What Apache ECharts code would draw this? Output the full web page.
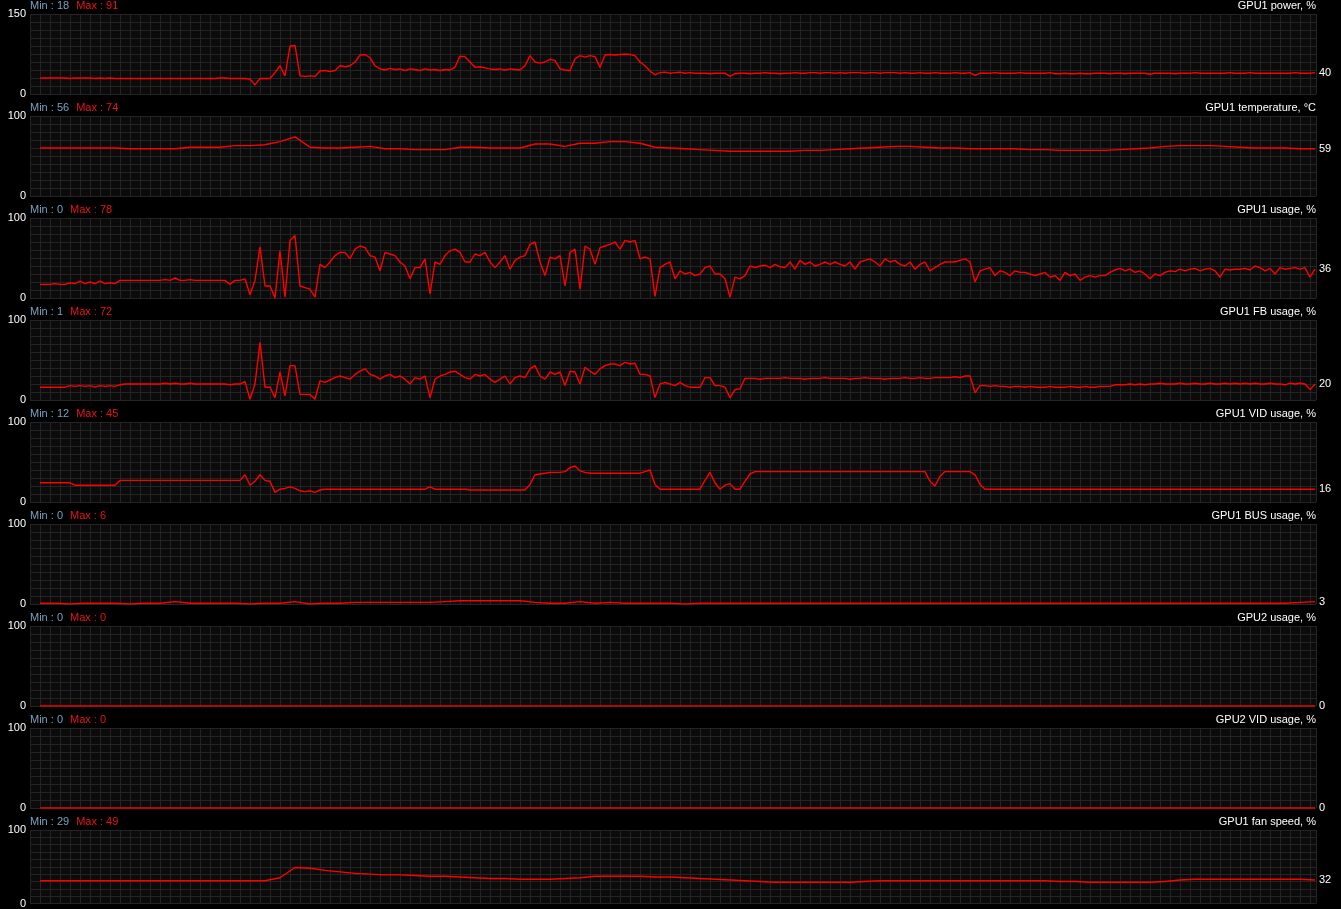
<!DOCTYPE html>
<html>
<head>
<meta charset="utf-8">
<title>GPU monitoring</title>
<script src="https://cdn.jsdelivr.net/npm/echarts@6.0.0/dist/echarts.min.js"></script>
<style>
  html, body { margin: 0; padding: 0; background: #000; }
  #chart { width: 1341px; height: 909px; }
</style>
</head>
<body>
<div id="chart"></div>
<script>
const panelNames = ['GPU1 power, %', 'GPU1 temperature, °C', 'GPU1 usage, %', 'GPU1 FB usage, %',
  'GPU1 VID usage, %', 'GPU1 BUS usage, %', 'GPU2 usage, %', 'GPU2 VID usage, %', 'GPU1 fan speed, %']
const panelMax = [150, 100, 100, 100, 100, 100, 100, 100, 100]
const minValues = [18, 56, 0, 1, 12, 0, 0, 0, 29]
const maxValues = [91, 74, 78, 72, 45, 6, 0, 0, 49]

// samples are evenly spaced in time, oldest on the left
const power = [
  30, 30, 30, 30, 30, 30, 29, 30, 30, 30, 30, 29, 30, 29, 30, 29, 29, 29, 29, 29,
  29, 29, 29, 29, 29, 29, 29, 29, 29, 29, 29, 29, 29, 29, 29, 29, 30, 30, 29, 29,
  29, 29, 28, 17, 29, 29, 29, 40, 53, 34, 90, 91, 34, 33, 34, 33, 43, 44, 42, 44,
  53, 51, 53, 60, 73, 74, 68, 53, 47, 45, 48, 46, 47, 44, 47, 46, 44, 47, 45, 46,
  44, 46, 45, 50, 71, 70, 60, 50, 51, 49, 47, 46, 47, 45, 47, 46, 45, 53, 72, 60,
  58, 60, 65, 63, 47, 45, 44, 66, 72, 69, 72, 70, 50, 73, 74, 73, 74, 75, 74, 72,
  60, 53, 43, 36, 40, 41, 39, 40, 41, 39, 40, 39, 39, 39, 38, 39, 39, 39, 33, 38,
  39, 39, 38, 39, 39, 40, 39, 39, 38, 39, 39, 40, 39, 39, 40, 40, 39, 40, 40, 39,
  40, 39, 40, 40, 40, 39, 40, 40, 39, 40, 40, 40, 39, 40, 39, 39, 40, 39, 39, 40,
  39, 39, 39, 40, 39, 39, 40, 35, 39, 39, 39, 40, 39, 39, 39, 39, 40, 39, 39, 39,
  39, 39, 40, 38, 38, 39, 38, 38, 39, 38, 38, 39, 39, 39, 38, 39, 39, 38, 39, 39,
  39, 39, 37, 39, 39, 39, 39, 38, 39, 39, 39, 40, 39, 39, 39, 39, 39, 39, 40, 39,
  39, 39, 40, 39, 39, 39, 39, 39, 39, 39, 39, 40, 39, 39, 39, 40
]
const temperature = [
  60, 60, 60, 60, 60, 60, 59, 59, 59, 59,
  61, 61, 61, 63, 63, 64, 68, 74, 61, 60,
  60, 61, 62, 59, 59, 58, 58, 58, 61, 61,
  60, 60, 60, 65, 65, 62, 66, 66, 68, 68,
  66, 61, 60, 59, 58, 57, 56, 56, 56, 56,
  56, 57, 57, 58, 59, 60, 61, 62, 62, 61,
  60, 60, 59, 59, 59, 59, 58, 58, 57, 57,
  57, 57, 58, 59, 60, 62, 63, 63, 63, 62,
  61, 60, 60, 60, 59, 59
]
const usage = [
  17, 17, 17, 18, 17, 17, 19, 18, 21, 18, 20, 18, 21, 18, 19, 18, 22, 22, 22, 22,
  22, 22, 22, 22, 22, 23, 22, 25, 22, 22, 23, 22, 22, 22, 22, 22, 22, 22, 17, 22,
  22, 24, 4, 22, 64, 15, 15, 0, 59, 1, 72, 78, 15, 13, 11, 1, 42, 38, 45, 53,
  57, 57, 49, 61, 65, 63, 53, 51, 34, 57, 55, 53, 45, 40, 24, 38, 38, 49, 5, 45,
  42, 53, 59, 61, 57, 45, 45, 55, 53, 57, 45, 38, 45, 53, 36, 47, 51, 53, 67, 70,
  45, 28, 51, 49, 53, 15, 57, 61, 11, 65, 61, 42, 63, 65, 67, 70, 61, 72, 70, 72,
  49, 51, 49, 2, 38, 42, 45, 24, 34, 30, 32, 28, 30, 38, 40, 30, 30, 24, 1, 26,
  24, 28, 40, 38, 40, 41, 38, 42, 39, 38, 45, 36, 47, 42, 45, 40, 42, 45, 42, 45,
  42, 40, 45, 36, 45, 47, 49, 45, 40, 49, 45, 47, 42, 40, 45, 36, 42, 45, 34, 38,
  42, 45, 45, 45, 47, 49, 45, 20, 34, 36, 38, 28, 34, 32, 28, 34, 32, 32, 30, 28,
  30, 32, 26, 28, 22, 32, 28, 30, 22, 26, 28, 26, 28, 28, 32, 35, 37, 34, 36, 32,
  34, 30, 24, 30, 28, 32, 34, 33, 36, 34, 36, 37, 34, 36, 37, 34, 26, 36, 35, 36,
  36, 37, 35, 40, 38, 34, 37, 30, 38, 36, 37, 38, 36, 38, 26, 36
]
const fbUsage = [
  16, 16, 16, 16, 16, 16, 18, 17, 18, 17, 18, 16, 18, 17, 18, 17, 19, 20, 20, 20,
  20, 20, 20, 20, 20, 21, 20, 21, 20, 20, 21, 20, 20, 20, 20, 20, 20, 20, 19, 20,
  20, 23, 1, 20, 72, 16, 16, 3, 35, 5, 43, 43, 7, 7, 7, 1, 24, 22, 25, 28,
  30, 28, 26, 32, 36, 39, 32, 30, 26, 30, 32, 28, 30, 26, 20, 28, 26, 30, 3, 26,
  30, 32, 35, 36, 32, 28, 26, 32, 30, 32, 26, 22, 26, 30, 20, 28, 30, 28, 39, 43,
  30, 26, 35, 32, 35, 18, 36, 35, 20, 41, 36, 32, 39, 43, 45, 45, 43, 47, 45, 46,
  32, 32, 30, 3, 20, 22, 20, 18, 22, 18, 16, 16, 16, 28, 28, 18, 18, 16, 3, 13,
  14, 27, 27, 27, 26, 27, 27, 27, 27, 28, 27, 27, 27, 26, 27, 27, 27, 28, 27, 27,
  27, 27, 26, 27, 27, 28, 27, 27, 27, 26, 27, 27, 27, 28, 27, 27, 28, 27, 27, 28,
  28, 28, 28, 29, 28, 30, 30, 9, 18, 18, 17, 18, 17, 17, 16, 17, 17, 16, 17, 16,
  16, 16, 17, 16, 16, 16, 17, 16, 16, 17, 16, 16, 17, 17, 17, 19, 19, 19, 20, 19,
  20, 19, 20, 20, 21, 20, 20, 20, 21, 20, 20, 21, 20, 20, 21, 20, 20, 21, 20, 21,
  20, 21, 20, 21, 20, 20, 21, 20, 20, 19, 21, 20, 21, 20, 13, 20
]
const vidUsage = [
  24, 24, 24, 24, 24, 24, 24, 21, 21, 21, 21, 21, 21, 21, 21, 21, 27, 27, 27, 27,
  27, 27, 27, 27, 27, 27, 27, 27, 27, 27, 27, 27, 27, 27, 27, 27, 27, 27, 27, 27,
  27, 34, 21, 26, 34, 27, 26, 12, 16, 17, 19, 17, 14, 13, 14, 12, 15, 16, 16, 16,
  16, 16, 16, 16, 16, 16, 16, 16, 16, 16, 16, 16, 16, 16, 16, 16, 16, 16, 19, 16,
  16, 16, 16, 16, 16, 16, 15, 15, 15, 15, 15, 15, 15, 15, 15, 15, 15, 15, 22, 34,
  35, 36, 37, 37, 37, 38, 43, 45, 39, 37, 36, 36, 36, 36, 36, 36, 36, 36, 36, 36,
  36, 38, 40, 22, 16, 16, 16, 16, 16, 16, 16, 16, 16, 27, 37, 24, 16, 21, 23, 16,
  16, 26, 35, 38, 38, 38, 38, 38, 38, 38, 38, 38, 38, 38, 38, 38, 38, 38, 38, 38,
  38, 38, 38, 38, 38, 38, 38, 38, 38, 38, 38, 38, 38, 38, 38, 38, 38, 38, 26, 20,
  32, 38, 38, 38, 38, 38, 38, 34, 22, 16, 16, 16, 16, 16, 16, 16, 16, 16, 16, 16,
  16, 16, 16, 16, 16, 16, 16, 16, 16, 16, 16, 16, 16, 16, 16, 16, 16, 16, 16, 16,
  16, 16, 16, 16, 16, 16, 16, 16, 16, 16, 16, 16, 16, 16, 16, 16, 16, 16, 16, 16,
  16, 16, 16, 16, 16, 16, 16, 16, 16, 16, 16, 16, 16, 16, 16, 16
]
const busUsage = [
  1, 1, 0, 1, 1, 1, 0, 1, 1, 3,
  1, 1, 1, 1, 0, 1, 1, 3, 0, 1,
  1, 2, 2, 2, 2, 2, 2, 3, 4, 4,
  4, 4, 4, 2, 1, 1, 3, 1, 2, 1,
  1, 1, 1, 0, 1, 1, 1, 1, 1, 1,
  1, 1, 1, 1, 1, 1, 1, 1, 1, 1,
  1, 1, 1, 1, 1, 1, 1, 1, 1, 1,
  1, 1, 1, 1, 1, 1, 1, 1, 1, 1,
  1, 1, 1, 1, 2, 3
]
const gpu2Usage = [0, 0]
const gpu2VidUsage = [0, 0]
const fanSpeed = [
  31, 31, 31, 31, 31, 31, 31, 31, 31, 31, 31, 31, 31, 31, 31, 31,
  35, 49, 48, 45, 43, 41, 40, 39, 39, 38,
  37, 37, 36, 35, 34, 34, 33, 33, 33, 34,
  35, 37, 37, 37, 37, 36, 36, 35, 34, 33,
  32, 31, 30, 29, 29, 29, 29, 29, 29, 30,
  31, 31, 31, 31, 31, 31, 31, 31, 31, 31,
  31, 31, 30, 30, 29, 29, 29, 29, 29, 30,
  32, 33, 33, 33, 33, 33, 33, 33, 33, 32
]
const panelValues = [power, temperature, usage, fbUsage, vidUsage, busUsage, gpu2Usage, gpu2VidUsage, fanSpeed]

const FONT = 'Liberation Sans, Arial, sans-serif'
const PLOT_LEFT = 30
const PLOT_W = 1286
const PLOT_H = 80
const PANEL_STEP = 102

// history starts 10px into the plot and runs to its right end
function toPoints(values) {
  const n = values.length
  return values.map((v, i) => [10 + i * 1275 / (n - 1), v])
}

const grid = [], xAxis = [], yAxis = [], series = [], title = []
panelValues.forEach((vals, k) => {
  const top = 14 + PANEL_STEP * k
  const max = panelMax[k]
  grid.push({
    left: PLOT_LEFT, top: top, width: PLOT_W, height: PLOT_H,
    show: true, backgroundColor: '#0b0b0b', borderWidth: 0
  })
  xAxis.push({
    type: 'value', gridIndex: k, min: 0, max: PLOT_W, interval: 10,
    axisLine: { show: false }, axisTick: { show: false }, axisLabel: { show: false },
    splitLine: { lineStyle: { color: '#242424', width: 1 } }
  })
  yAxis.push({
    type: 'value', gridIndex: k, min: 0, max: max, interval: max / 10,
    axisLine: { show: false }, axisTick: { show: false },
    axisLabel: {
      color: '#ffffff', fontSize: 11, fontFamily: FONT, margin: 4, padding: [3, 0, 0, 0],
      formatter: v => (v === 0 || v === max) ? String(v) : ''
    },
    splitLine: { lineStyle: { color: '#242424', width: 1 } }
  })
  series.push({
    type: 'line', xAxisIndex: k, yAxisIndex: k,
    data: toPoints(vals),
    symbol: 'none', silent: true,
    lineStyle: { color: '#ff0000', width: 1.4 },
    endLabel: {
      show: true, color: '#ffffff', fontSize: 11, fontFamily: FONT, distance: 4,
      formatter: p => String(p.value[1])
    }
  })
  title.push({
    left: PLOT_LEFT, top: top - 14, padding: 0,
    text: '{a|Min : ' + minValues[k] + '}{b|Max : ' + maxValues[k] + '}',
    textStyle: {
      fontWeight: 'normal',
      rich: {
        a: { color: '#78a0bf', fontSize: 11, fontWeight: 'normal', fontFamily: FONT, lineHeight: 12 },
        b: { color: '#e8141a', fontSize: 11, fontWeight: 'normal', fontFamily: FONT, lineHeight: 12, padding: [0, 0, 0, 7] }
      }
    }
  })
  title.push({
    right: 1341 - PLOT_LEFT - PLOT_W, top: top - 14, padding: 0,
    text: panelNames[k],
    textStyle: { color: '#ffffff', fontSize: 11, fontWeight: 'normal', fontFamily: FONT, lineHeight: 12 }
  })
})

const chart = echarts.init(document.getElementById('chart'))
chart.setOption({
  backgroundColor: '#000000',
  animation: false,
  title: title,
  grid: grid,
  xAxis: xAxis,
  yAxis: yAxis,
  series: series
})
</script>
</body>
</html>
